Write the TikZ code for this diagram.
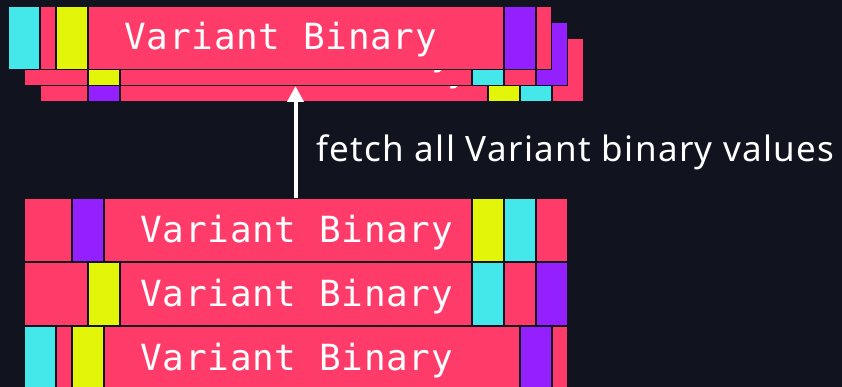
\documentclass[tikz,border=0pt]{standalone}
\usepackage{fontspec}
\usetikzlibrary{arrows.meta}
\newfontfamily\vbmono[LetterSpace=2.2]{DejaVu Sans Mono}
\newfontfamily\lblfont[LetterSpace=3.9]{Noto Sans}
\definecolor{bgc}{HTML}{11141F}
\definecolor{pinkc}{HTML}{FF3B69}
\definecolor{cyanc}{HTML}{45E8EA}
\definecolor{yellowc}{HTML}{E3F508}
\definecolor{purplec}{HTML}{9420FF}
\tikzset{
  vbtext/.style={text=white, inner sep=0pt, anchor=base west, font=\vbmono\fontsize{36}{40}\selectfont},
  lbl/.style={text=white, inner sep=0pt, anchor=base west, font=\lblfont\fontsize{35}{40}\selectfont},
  fetcharrow/.style={draw=white, line width=4pt, -{Triangle[width=16pt,length=16pt]}},
}
\newcommand\vbrow[4]{%
  \fill[bgc] (#1,#2) rectangle ++(544,64);
  \foreach \a/\b/\c in #3 {\fill[\c] ({#1+\a+1},{#2+1}) rectangle ({#1+\b-1},{#2+63});}
  \node[vbtext] (#4) at ({#1+116},{#2+44}) {Variant Binary};
}
\def\patA{0/48/pinkc,48/80/purplec,80/448/pinkc,448/480/yellowc,480/512/cyanc,512/544/pinkc}
\def\patB{0/64/pinkc,64/96/yellowc,96/448/pinkc,448/480/cyanc,480/512/pinkc,512/544/purplec}
\def\patC{0/32/cyanc,32/48/pinkc,48/80/yellowc,80/496/pinkc,496/528/purplec,528/544/pinkc}
\begin{document}
\begin{tikzpicture}[x=1pt,y=-1pt]
\useasboundingbox (0,0) rectangle (842,387);
\fill[bgc] (0,0) rectangle (842,387);
% stacked cards (back to front)
\vbrow{40}{38}{\patA}{cardthree}
\vbrow{24}{22}{\patB}{cardtwo}
\vbrow{8}{6}{\patC}{cardone}
% bottom rows
\vbrow{24}{198}{\patA}{rowone}
\vbrow{24}{262}{\patB}{rowtwo}
\vbrow{24}{326}{\patC}{rowthree}
% arrow
\coordinate (src) at (295.5,198);
\coordinate (tip) at (295.5,86);
\draw[fetcharrow] (src) -- (tip);
\node[lbl] (label) at (316,162) {fetch all Variant binary values};
\end{tikzpicture}
\end{document}
